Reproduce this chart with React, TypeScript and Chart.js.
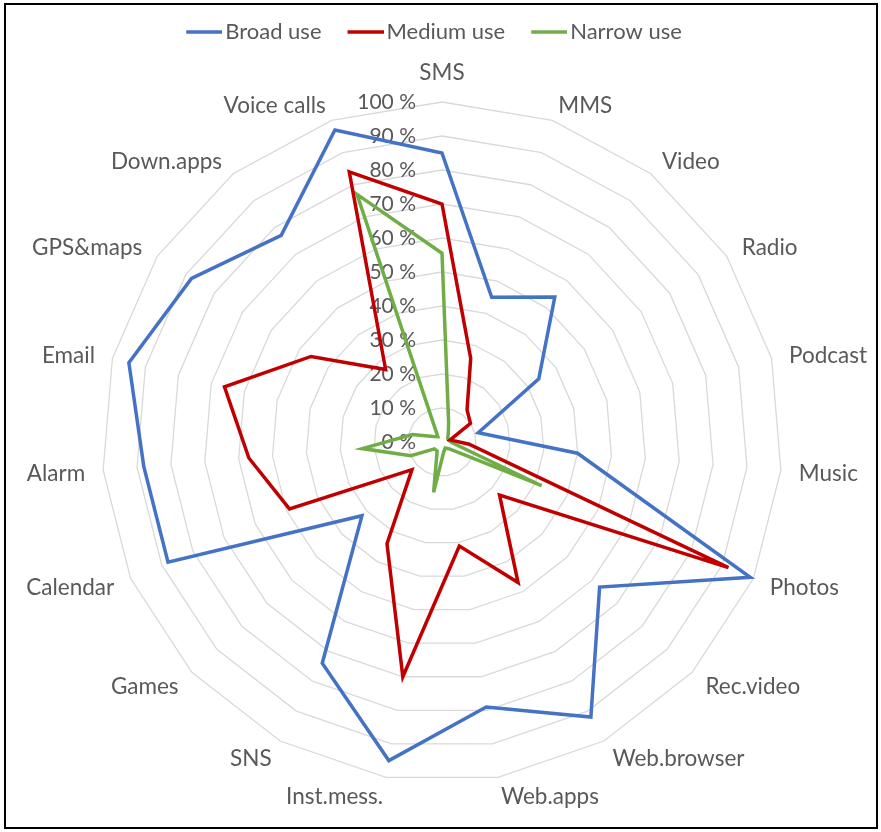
import React, { useEffect, useRef } from 'react';
import { Chart, registerables } from 'chart.js';

Chart.register(...registerables);

const categories = ['SMS', 'MMS', 'Video', 'Radio', 'Podcast', 'Music', 'Photos', 'Rec.video', 'Web.browser', 'Web.apps', 'Inst.mess.', 'SNS', 'Games', 'Calendar', 'Alarm', 'Email', 'GPS&maps', 'Down.apps', 'Voice calls'];
const seriesNames = ['Broad use', 'Medium use', 'Narrow use'];
const broadUse = [85, 45, 54, 34, 11, 40, 99, 63, 92, 79, 95, 74, 32, 88, 88, 95, 88, 77, 97];
const mediumUse = [70, 26, 12, 10, 2.5, 8, 92, 23, 47, 31, 70, 34, 12, 49, 57, 66, 46, 27, 84];
const narrowUse = [55.5, 6, 3, 2, 2, 3, 32, 3, 2, 3, 15, 3, 3, 10, 23.5, 9, 3, 2, 77];
const tickValues = [0, 10, 20, 30, 40, 50, 60, 70, 80, 90, 100];
const tickLabels = ['0 %', '10 %', '20 %', '30 %', '40 %', '50 %', '60 %', '70 %', '80 %', '90 %', '100 %'];

const FONT = 'Lato';
const TEXT_COLOR = '#595959';
const COLORS = ['#4472C4', '#C00000', '#70AD47'];
const LINE_W = 3.5;

// legend swatch: a short line shifted so it sits close to its text
function makeSwatch(color: string) {
  const c = document.createElement('canvas');
  c.width = 56;
  c.height = 8;
  const g = c.getContext('2d')!;
  g.strokeStyle = color;
  g.lineWidth = LINE_W;
  g.beginPath();
  g.moveTo(20, 4);
  g.lineTo(56, 4);
  g.stroke();
  return c;
}

const labelsPlugin = {
  id: 'excelLabels',
  afterLayout(chart: any) {
    if (chart.legend) {
      chart.legend.left -= 14;
      chart.legend.right -= 14;
    }
  },
  beforeDatasetsDraw(chart: any) {
    const scale = chart.scales.r;
    const ctx = chart.ctx;
    ctx.save();
    ctx.fillStyle = TEXT_COLOR;
    // tick labels, right-aligned left of the vertical axis
    ctx.font = `21px ${FONT}`;
    ctx.textAlign = 'right';
    ctx.textBaseline = 'middle';
    tickValues.forEach((v, i) => {
      const d = scale.getDistanceFromCenterForValue(v);
      ctx.fillText(tickLabels[i], scale.xCenter - 26, scale.yCenter - d);
    });
    // category labels
    ctx.font = `22.5px ${FONT}`;
    categories.forEach((name, i) => {
      const p = scale.getPointPosition(i, scale.drawingArea + 18);
      const cx = Math.cos(p.angle);
      const sy = Math.sin(p.angle);
      let align = 'center';
      if (cx > 0.05) align = 'left';
      else if (cx < -0.05) align = 'right';
      let base = 'middle';
      let y = p.y + 2;
      if (align === 'center') {
        if (sy < 0) { base = 'bottom'; y = p.y; } else { base = 'top'; y = p.y; }
      }
      ctx.textAlign = align;
      ctx.textBaseline = base;
      ctx.fillText(name, p.x, y);
    });
    ctx.restore();
  },
};

export default function App() {
  const ref = useRef<HTMLCanvasElement | null>(null);
  useEffect(() => {
    if (!ref.current) return;
    const values = [broadUse, mediumUse, narrowUse];
    const chart = new Chart(ref.current, {
      type: 'radar',
      data: {
        labels: categories,
        datasets: values.map((d, k) => ({
          label: seriesNames[k],
          data: d,
          borderColor: COLORS[k],
          backgroundColor: COLORS[k],
          borderWidth: LINE_W,
          pointRadius: 0,
          pointHoverRadius: 0,
          pointStyle: makeSwatch(COLORS[k]),
          fill: false,
          tension: 0,
        })),
      },
      options: {
        animation: false,
        responsive: false,
        maintainAspectRatio: false,
        events: [],
        layout: { padding: { top: 2, left: 96, right: 94, bottom: 4 } },
        scales: {
          r: {
            min: 0,
            max: 100,
            ticks: { stepSize: 10, display: false },
            grid: { color: '#d9d9d9', lineWidth: 1.3, circular: false },
            angleLines: { display: false },
            pointLabels: { display: false },
          },
        },
        plugins: {
          legend: {
            position: 'top',
            labels: {
              usePointStyle: true,
              pointStyleWidth: 40,
              font: { family: FONT, size: 22 },
              color: TEXT_COLOR,
              padding: 14,
            },
          },
          tooltip: { enabled: false },
        },
      },
      plugins: [labelsPlugin],
    });
    return () => chart.destroy();
  }, []);

  return (
    <div style={{ position: 'absolute', left: 4, top: 3, width: 874, height: 826, boxSizing: 'border-box', border: '2px solid #000', background: '#fff', overflow: 'hidden' }}>
      <canvas ref={ref} width={870} height={830} style={{ display: 'block', width: 870, height: 830 }} />
    </div>
  );
}
